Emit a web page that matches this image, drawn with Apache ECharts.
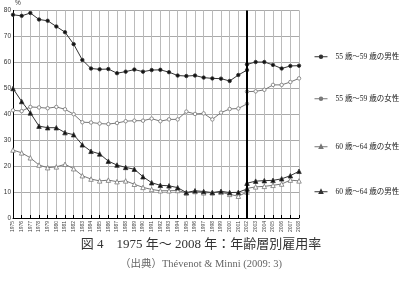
<!DOCTYPE html>
<html>
<head>
<meta charset="utf-8">
<script src="https://cdn.jsdelivr.net/npm/echarts@6/dist/echarts.min.js"></script>
<style>
  html, body { margin: 0; padding: 0; background: #fff; }
  #rates { width: 402px; height: 283px; }
</style>
</head>
<body>
<section id="rates"></section>
<script>
// years 1975-2002 (old survey) and 2002-2008 (new survey)
var oldYears = [1975, 1976, 1977, 1978, 1979, 1980, 1981, 1982, 1983, 1984, 1985, 1986, 1987, 1988,
  1989, 1990, 1991, 1992, 1993, 1994, 1995, 1996, 1997, 1998, 1999, 2000, 2001, 2002]
var newYears = [2002, 2003, 2004, 2005, 2006, 2007, 2008]
var breakYear = 2002

var names = ['55 歳～59 歳の男性', '55 歳～59 歳の女性', '60 歳～64 歳の女性', '60 歳～64 歳の男性']

var m5559Old = [78.3, 77.9, 79.0, 76.5, 76.0, 73.8, 71.6, 67.0, 60.9, 57.6, 57.3, 57.4, 55.8, 56.4,
  57.2, 56.4, 57.0, 57.1, 56.2, 54.9, 54.7, 54.9, 54.1, 53.8, 53.7, 52.8, 55.1, 57.0]
var m5559New = [59.2, 60.1, 60.1, 59.0, 57.6, 58.6, 58.7]

var f5559Old = [41.5, 41.2, 42.8, 42.6, 42.3, 42.8, 41.9, 40.0, 36.9, 36.8, 36.4, 36.2, 36.6, 37.3,
  37.5, 37.5, 38.3, 37.3, 38.0, 38.0, 41.0, 40.1, 40.3, 38.0, 40.6, 42.0, 42.2, 44.0]
var f5559New = [48.7, 48.8, 49.4, 51.3, 51.3, 52.4, 53.8]

var f6064Old = [26.2, 25.1, 23.2, 20.4, 19.4, 19.7, 20.7, 19.0, 16.3, 15.0, 14.3, 14.6, 14.0, 14.3,
  13.0, 11.8, 11.0, 10.5, 10.5, 10.6, 9.7, 10.2, 9.7, 9.8, 9.9, 9.1, 8.4, 10.0]
var f6064New = [11.4, 12.0, 12.2, 12.6, 13.1, 14.6, 14.3]

var m6064Old = [49.9, 44.9, 40.5, 35.4, 34.8, 34.8, 32.9, 32.1, 28.2, 25.7, 24.7, 21.9, 20.4, 19.5,
  18.8, 15.9, 13.6, 12.6, 12.4, 11.7, 9.8, 10.5, 10.2, 9.8, 10.3, 9.8, 9.9, 11.2]
var m6064New = [13.4, 14.2, 14.4, 14.5, 15.1, 16.3, 18.0]

var legendTops = [48, 90, 138, 183]

function pairs (xs, ys) {
  return xs.map(function (x, i) { return [x, ys[i]] })
}

var styles = [
  { symbol: 'circle', size: 3.5, fill: '#111', line: '#333' },
  { symbol: 'circle', size: 3.5, fill: '#fff', line: '#777' },
  { symbol: 'triangle', size: 4.5, fill: '#fff', line: '#777' },
  { symbol: 'triangle', size: 4.5, fill: '#111', line: '#333' }
]
var olds = [m5559Old, f5559Old, f6064Old, m6064Old]
var news = [m5559New, f5559New, f6064New, m6064New]

var series = []
names.forEach(function (name, i) {
  var st = styles[i]
  var base = {
    name: name,
    type: 'line',
    symbol: st.symbol,
    symbolSize: st.size,
    showAllSymbol: true,
    lineStyle: { color: st.line, width: 1 },
    itemStyle: { color: st.fill, borderColor: st.line, borderWidth: 0.8 },
    animation: false
  }
  series.push(Object.assign({}, base, { data: pairs(oldYears, olds[i]) }))
  series.push(Object.assign({}, base, { data: pairs(newYears, news[i]) }))
})
series[0].markLine = {
  silent: true,
  symbol: 'none',
  label: { show: false },
  lineStyle: { color: '#000', width: 2, type: 'solid' },
  data: [{ xAxis: breakYear }]
}

var legends = names.map(function (name, i) {
  return {
    data: [name],
    left: 309,
    top: legendTops[i],
    itemWidth: 13,
    itemHeight: 3,
    lineStyle: { width: 1 },
    textStyle: {
      fontSize: 7.5,
      color: '#222',
      padding: [0, 0, 0, 3],
      fontFamily: 'Liberation Serif, Noto Sans CJK JP'
    }
  }
})

var chart = echarts.init(document.getElementById('rates'))
chart.setOption({
  backgroundColor: '#fff',
  title: [{
    text: '図 4　1975 年～ 2008 年：年齢層別雇用率',
    left: 'center',
    top: 233,
    textStyle: { fontSize: 13, fontWeight: 'normal', color: '#333', fontFamily: 'Liberation Serif, Noto Sans CJK JP' }
  }, {
    text: '（出典）Thévenot & Minni (2009: 3)',
    left: 'center',
    top: 254,
    textStyle: { fontSize: 10.5, fontWeight: 'normal', color: '#666', fontFamily: 'Liberation Serif, Noto Sans CJK JP' }
  }],
  legend: legends,
  grid: { left: 13, right: 103, top: 7, bottom: 65, containLabel: false },
  xAxis: {
    type: 'value',
    min: 1975,
    max: 2008,
    interval: 1,
    axisLine: { lineStyle: { color: '#000', width: 1 } },
    axisTick: { inside: true, length: 3, lineStyle: { color: '#000' } },
    axisLabel: {
      rotate: 90,
      fontSize: 5,
      color: '#444',
      margin: 3,
      fontFamily: 'Liberation Sans',
      formatter: function (v) { return String(v) }
    },
    splitLine: { show: true, lineStyle: { color: '#bbb', width: 1 } }
  },
  yAxis: {
    type: 'value',
    min: 0,
    max: 80,
    interval: 10,
    name: '%',
    nameGap: 2,
    nameTextStyle: { fontSize: 6.5, color: '#333', padding: [0, 0, 0, 10] },
    axisLine: { show: true, lineStyle: { color: '#000', width: 1 } },
    axisTick: { show: false },
    axisLabel: { fontSize: 6.5, color: '#333', margin: 2, fontFamily: 'Liberation Sans' },
    splitLine: { lineStyle: { color: '#aaa', width: 1 } }
  },
  series: series
})
</script>
</body>
</html>
